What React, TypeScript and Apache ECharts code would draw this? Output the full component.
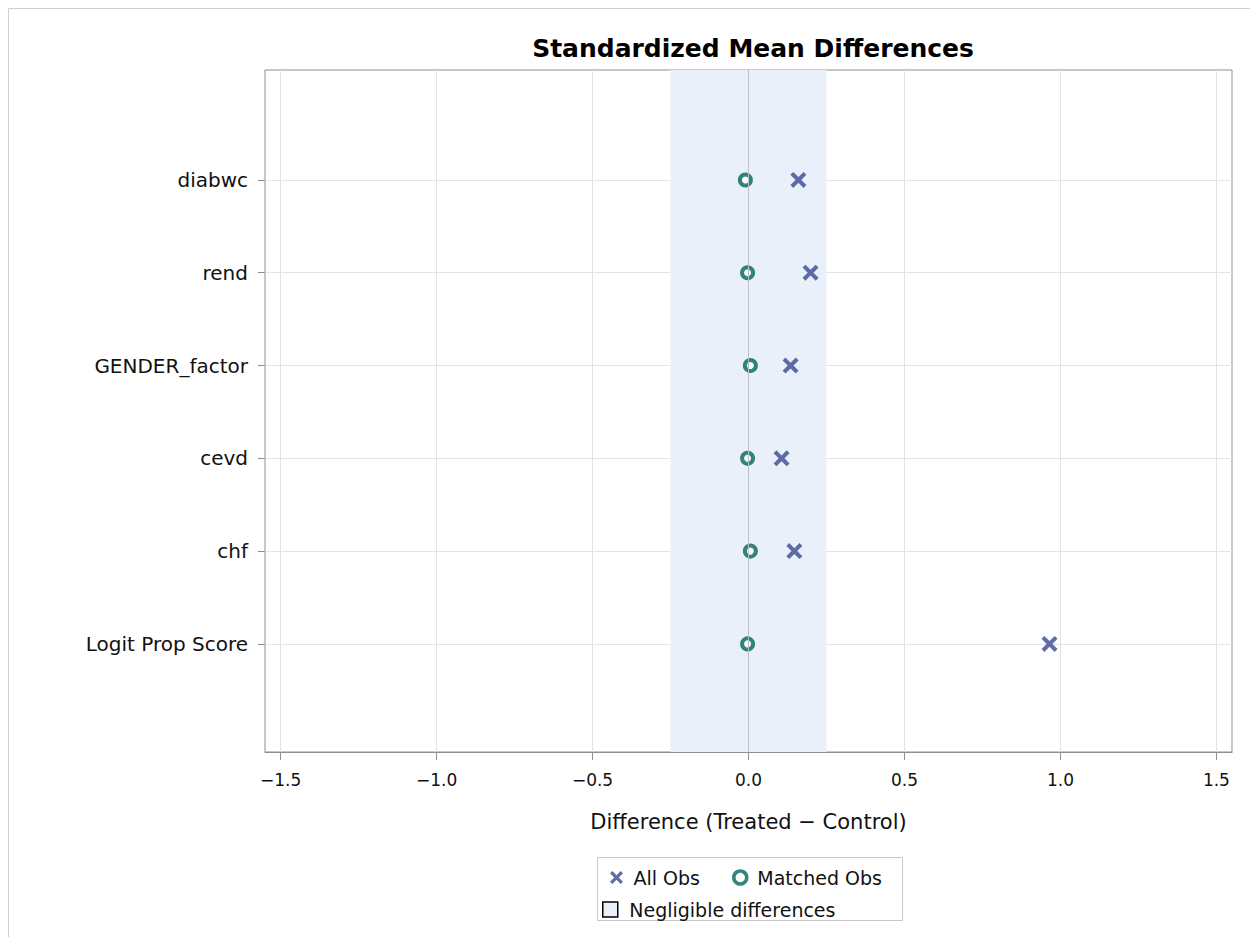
import React, { useEffect, useRef } from "react";
import * as echarts from "echarts";

const categories = ["Logit Prop Score", "chf", "cevd", "GENDER_factor", "rend", "diabwc"];
const allObs = [0.965, 0.147, 0.106, 0.135, 0.199, 0.16];
const matchedObs = [-0.003, 0.006, -0.003, 0.006, -0.003, -0.01];
const xTicks = [-1.5, -1.0, -0.5, 0.0, 0.5, 1.0, 1.5];
const yTicks = [0, 1, 2, 3, 4, 5];
const negligible = [-0.25, 0.25];

const FONT = "'DejaVu Sans', sans-serif";
const X_PATH =
  "path://M1.8,0 L5,3.2 L8.2,0 L10,1.8 L6.8,5 L10,8.2 L8.2,10 L5,6.8 L1.8,10 L0,8.2 L3.2,5 L0,1.8 Z";
const SQUARE_PATH = "path://M0,0 L10,0 L10,10 L0,10 Z";

export default function App() {
  const ref = useRef<HTMLDivElement>(null);
  useEffect(() => {
    document.body.style.margin = "0";
    document.body.style.overflow = "hidden";
    const chart = echarts.init(ref.current!, undefined, { renderer: "svg" });
    const option: any = {
      animation: false,
      backgroundColor: "#fff",
      textStyle: { fontFamily: FONT },
      title: {
        text: "Standardized Mean Differences",
        left: 748,
        textAlign: "center",
        top: 31,
        textStyle: { fontFamily: FONT, fontWeight: "bold", fontSize: 25, color: "#000" },
      },
      graphic: [
        {
          type: "rect",
          shape: { x: 8.5, y: 8.5, width: 1300, height: 1000 },
          style: { fill: "none", stroke: "#cfcfcf", lineWidth: 1 },
          silent: true,
        },
        {
          type: "rect",
          shape: { x: 597.5, y: 857.5, width: 305, height: 63 },
          style: { fill: "none", stroke: "#c8c8c8", lineWidth: 1 },
          silent: true,
        },
      ],
      grid: {
        left: 265,
        top: 70,
        width: 967,
        height: 682,
        show: true,
        borderColor: "#8a8f96",
        borderWidth: 1,
        backgroundColor: "transparent",
      },
      legend: [
        {
          data: [
            "All Obs",
            {
              name: "Matched Obs",
              itemStyle: { color: "#ffffff", borderColor: "#00665c", borderWidth: 3.5 },
            },
          ],
          left: 605,
          top: 863,
          itemGap: 32,
          itemWidth: 24,
          itemHeight: 13,
          textStyle: { fontFamily: FONT, fontSize: 19, color: "#111" },
          selectedMode: false,
        },
        {
          data: [
            {
              name: "Negligible differences",
              icon: SQUARE_PATH,
              itemStyle: { color: "#e9f0f9", borderColor: "#000", borderWidth: 1.5 },
            },
          ],
          left: 597,
          top: 895,
          itemWidth: 28,
          itemHeight: 15,
          textStyle: { fontFamily: FONT, fontSize: 19, color: "#111" },
          selectedMode: false,
        },
      ],
      xAxis: {
        type: "value",
        min: -1.55,
        max: 1.55,
        name: "Difference (Treated \u2212 Control)",
        nameLocation: "middle",
        nameGap: 59,
        nameTextStyle: { fontFamily: FONT, fontSize: 21, color: "#111" },
        axisLine: { show: true, onZero: false, lineStyle: { color: "#8a8f96" } },
        axisTick: { show: true, length: 8, customValues: xTicks, lineStyle: { color: "#8a8f96" } },
        axisLabel: {
          customValues: xTicks,
          margin: 19,
          fontFamily: FONT,
          fontSize: 17,
          color: "#111",
          formatter: (v: number) => (v < 0 ? "\u2212" : "") + Math.abs(v).toFixed(1),
        },
        splitLine: { show: true, lineStyle: { color: "#e3e3e3" } },
      },
      yAxis: {
        type: "value",
        min: -1.165,
        max: 6.185,
        axisLine: { show: false, onZero: false },
        axisTick: { show: true, length: 7, customValues: yTicks, lineStyle: { color: "#8a8f96" } },
        axisLabel: {
          customValues: yTicks,
          margin: 17,
          fontFamily: FONT,
          fontSize: 20,
          color: "#111",
          formatter: (v: number) => categories[Math.round(v)] ?? "",
        },
        splitLine: { show: true, lineStyle: { color: "#e3e3e3" } },
      },
      series: [
        {
          name: "Negligible differences",
          type: "line",
          z: -1,
          data: [],
          itemStyle: { color: "#e9f0f9" },
          markArea: {
            silent: true,
            itemStyle: { color: "#e9f0f9" },
            data: [[{ xAxis: negligible[0] }, { xAxis: negligible[1] }]],
          },
        },
        {
          name: "Zero",
          type: "line",
          data: [],
          z: 1,
          markLine: {
            silent: true,
            symbol: "none",
            label: { show: false },
            lineStyle: { color: "#b9c0c8", type: "solid", width: 1 },
            data: [{ xAxis: 0 }],
          },
        },
        {
          name: "All Obs",
          type: "scatter",
          symbol: X_PATH,
          symbolSize: 16,
          itemStyle: { color: "#3a4894" },
          data: allObs.map((v, i) => [v, i]),
          z: 3,
        },
        {
          name: "Matched Obs",
          type: "scatter",
          symbol: "circle",
          symbolSize: 11,
          itemStyle: { color: "#ffffff", borderColor: "#00665c", borderWidth: 4 },
          data: matchedObs.map((v, i) => [v, i]),
          z: 4,
        },
      ],
    };
    chart.setOption(option);
    return () => chart.dispose();
  }, []);
  return <div ref={ref} style={{ width: 1250, height: 937 }} />;
}
